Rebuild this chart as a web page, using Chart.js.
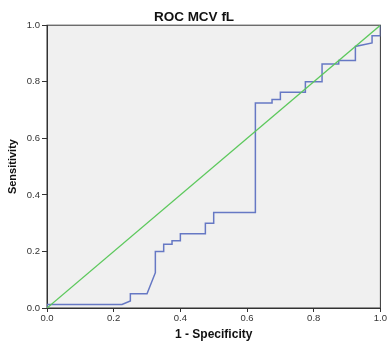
<!DOCTYPE html>
<html>
<head>
<meta charset="utf-8">
<script src="https://cdn.jsdelivr.net/npm/chart.js@4"></script>
<style>
  html, body { margin: 0; padding: 0; background: #fff; }
  #wrap { width: 388px; height: 343px; }
</style>
</head>
<body>
<div id="wrap"><canvas id="rocChart"></canvas></div>
<script>
// ROC curve steps
const fpr = [0, 0, 0.225, 0.25, 0.25, 0.3, 0.325, 0.325, 0.35, 0.35, 0.375, 0.375, 0.4, 0.4,
  0.475, 0.475, 0.5, 0.5, 0.625, 0.625, 0.675, 0.675, 0.7, 0.7, 0.775, 0.775, 0.825, 0.825,
  0.875, 0.875, 0.925, 0.925, 0.975, 0.975, 1.0, 1.0];
const tpr = [0, 0.0125, 0.0125, 0.025, 0.05, 0.05, 0.125, 0.2, 0.2, 0.225, 0.225, 0.2375, 0.2375, 0.2625,
  0.2625, 0.3, 0.3, 0.3375, 0.3375, 0.725, 0.725, 0.7375, 0.7375, 0.7625, 0.7625, 0.8, 0.8, 0.8625,
  0.8625, 0.875, 0.875, 0.925, 0.9375, 0.9625, 0.9625, 1.0];
const refX = [0, 1];
const refY = [0, 1];
const tickValues = [0, 0.2, 0.4, 0.6, 0.8, 1.0];

const fontFamily = "'Liberation Sans', Arial, sans-serif";

const plotFrame = {
  id: 'plotFrame',
  beforeDraw(chart) {
    const { ctx, chartArea: a } = chart;
    ctx.save();
    ctx.fillStyle = '#f0f0f0';
    ctx.fillRect(a.left, a.top, a.right - a.left, a.bottom - a.top);
    ctx.restore();
  },
  beforeDatasetsDraw(chart) {
    const { ctx, chartArea: a } = chart;
    ctx.save();
    ctx.strokeStyle = '#333';
    ctx.lineWidth = 1;
    ctx.strokeRect(a.left, a.top, a.right - a.left, a.bottom - a.top);
    ctx.restore();
  }
};

const ctx = document.getElementById('rocChart').getContext('2d');
new Chart(ctx, {
  type: 'scatter',
  data: {
    datasets: [
      {
        label: 'Reference',
        data: refX.map((x, i) => ({ x: x, y: refY[i] })),
        showLine: true,
        borderColor: '#5cc85c',
        borderWidth: 1.3,
        pointRadius: 0,
        tension: 0
      },
      {
        label: 'MCV fL',
        data: fpr.map((x, i) => ({ x: x, y: tpr[i] })),
        showLine: true,
        borderColor: '#6678c4',
        borderWidth: 1.5,
        pointRadius: 0,
        tension: 0
      }
    ]
  },
  options: {
    responsive: true,
    maintainAspectRatio: false,
    animation: false,
    layout: { padding: { left: 0, right: 0, top: 0, bottom: 0 } },
    plugins: {
      legend: { display: false },
      tooltip: { enabled: false },
      title: {
        display: true,
        text: 'ROC MCV fL',
        color: '#111',
        font: { family: fontFamily, size: 13.5, weight: 'bold' },
        padding: { top: 9, bottom: 0 }
      }
    },
    scales: {
      x: {
        type: 'linear',
        min: 0,
        max: 1,
        afterBuildTicks: s => { s.ticks = tickValues.map(v => ({ value: v })); },
        afterFit: s => { s.height = 35; },
        grid: { drawOnChartArea: false, drawTicks: true, tickLength: 4, color: '#333' },
        border: { display: true, color: '#333' },
        ticks: {
          padding: 1,
          color: '#333',
          font: { family: fontFamily, size: 9.5 },
          callback: v => Number(v).toFixed(1),
          maxRotation: 0
        },
        title: {
          display: true,
          text: '1 - Specificity',
          color: '#111',
          font: { family: fontFamily, size: 12, weight: 'bold' },
          padding: { top: 0, bottom: 1.5 }
        }
      },
      y: {
        type: 'linear',
        min: 0,
        max: 1,
        afterBuildTicks: s => { s.ticks = tickValues.map(v => ({ value: v })); },
        afterFit: s => { s.width = 47; },
        grid: { drawOnChartArea: false, drawTicks: true, tickLength: 5, color: '#333' },
        border: { display: true, color: '#333' },
        ticks: {
          padding: 2,
          color: '#333',
          font: { family: fontFamily, size: 9.5 },
          callback: v => Number(v).toFixed(1)
        },
        title: {
          display: true,
          text: 'Sensitivity',
          color: '#111',
          font: { family: fontFamily, size: 11, weight: 'bold' },
          padding: { top: 6.5, bottom: 0 }
        }
      }
    }
  },
  plugins: [plotFrame]
});
</script>
</body>
</html>
